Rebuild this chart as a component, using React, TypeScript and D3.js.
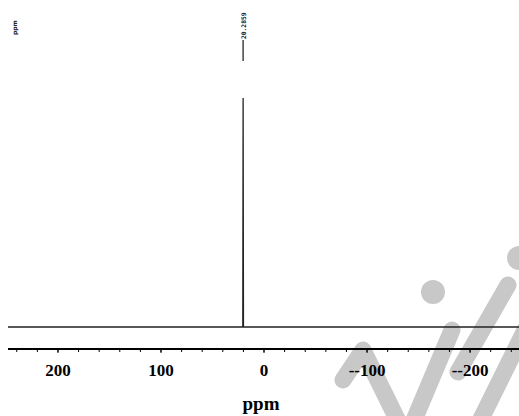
import React from "react";
import * as d3 from "d3";

const spectrumPpm = [248.5, 60, 20.6, 20.2859, 19.95, 5, -247.5];
const spectrumIntensity = [0, 0, 0, 1, 0, 0, 0];
const peakLabels = ["20.2859"];
const peakLabelPpm = [20.2859];
const majorTicks = [200, 100, 0, -100, -200];
const majorTickLabels = ["200", "100", "0", "--100", "--200"];
const minorTicks = d3.range(240, -250, -20);

const W = 519;
const H = 416;

export default function App() {
  const x = d3.scaleLinear().domain([248.5, -247.5]).range([8, 519]);
  const y = d3.scaleLinear().domain([0, 1]).range([327, 98]);
  const pts: [number, number][] = spectrumPpm.map((p, i) => [p, spectrumIntensity[i]]);
  const line = d3
    .line<[number, number]>()
    .x((d) => x(d[0]))
    .y((d) => y(d[1]));
  const axisY = 349;
  const serif = "'Liberation Serif', 'Times New Roman', serif";
  return (
    <svg
      width={W}
      height={H}
      style={{ position: "absolute", left: 0, top: 0, background: "#fff" }}
    >
      <rect x={0} y={0} width={W} height={H} fill="#fff" />
      {/* watermark */}
      <g stroke="#c8c8c8" strokeWidth={17} fill="none" strokeLinecap="round" strokeLinejoin="round">
        <path d="M 343 380 L 363 350 L 400 425" />
        <path d="M 412 425 L 452 330" />
        <path d="M 458 372 L 508 285" />
        <path d="M 478 425 L 525 330" />
      </g>
      <circle cx={433} cy={292} r={12} fill="#c8c8c8" />
      <circle cx={519} cy={258} r={12} fill="#c8c8c8" />
      {/* spectrum */}
      <path d={line(pts) || ""} fill="none" stroke="#222" strokeWidth={1.3} />
      {/* peak label */}
      {peakLabelPpm.map((p, i) => (
        <g key={i}>
          <line x1={x(p)} x2={x(p)} y1={40} y2={61} stroke="#444" strokeWidth={1.5} />
          <text
            transform={`translate(${x(p) + 2.5},${39}) rotate(-90)`}
            fontFamily="'DejaVu Sans Mono', monospace"
            fontWeight="bold"
            fontSize={6.3}
            fill="#222"
            textAnchor="start"
          >
            {peakLabels[i]}
          </text>
        </g>
      ))}
      {/* top-left unit */}
      <text
        transform={`translate(${17},${35}) rotate(-90)`}
        fontFamily="'DejaVu Sans', sans-serif"
        fontWeight="bold"
        fontSize={6}
        fill="#222"
      >
        ppm
      </text>
      {/* axis */}
      <line x1={8} x2={W} y1={axisY} y2={axisY} stroke="#000" strokeWidth={2} />
      {minorTicks.map((t) => (
        <line key={t} x1={x(t)} x2={x(t)} y1={axisY} y2={axisY + 3} stroke="#000" strokeWidth={1} />
      ))}
      {majorTicks.map((t, i) => (
        <g key={t}>
          <line x1={x(t)} x2={x(t)} y1={axisY} y2={axisY + 4} stroke="#000" strokeWidth={1} />
          <text
            x={x(t)}
            y={376}
            textAnchor="middle"
            fontFamily={serif}
            fontWeight="bold"
            fontSize={17}
            fill="#000"
          >
            {majorTickLabels[i]}
          </text>
        </g>
      ))}
      <text
        x={261}
        y={410}
        textAnchor="middle"
        fontFamily={serif}
        fontWeight="bold"
        fontSize={19}
        fill="#000"
      >
        ppm
      </text>
    </svg>
  );
}
